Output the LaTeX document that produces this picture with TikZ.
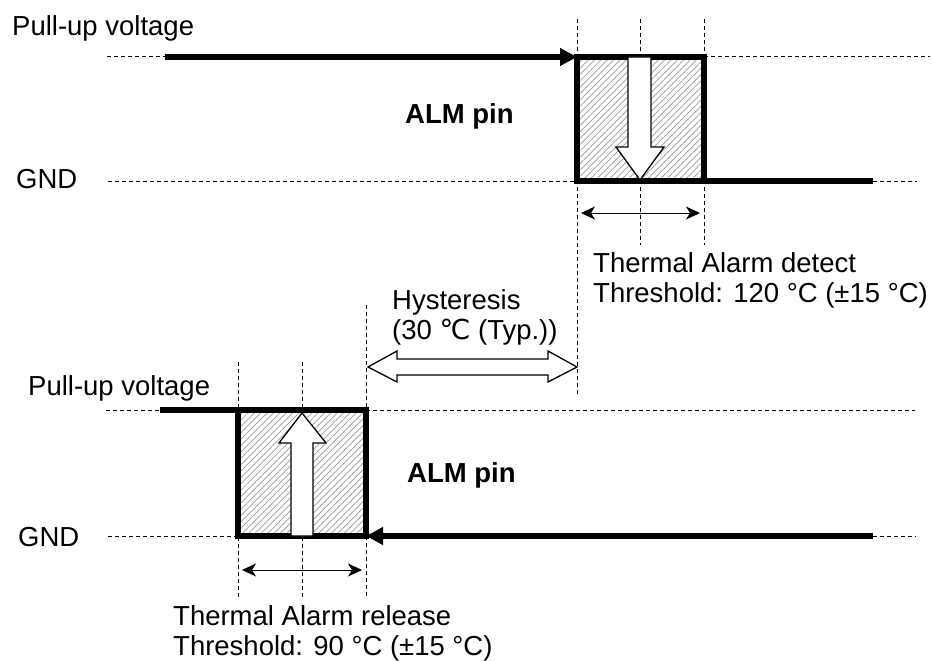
\documentclass[tikz,border=0pt]{standalone}
\usepackage{fontspec}
\setmainfont{Liberation Sans}
\newfontfamily\degfont{DejaVu Sans}
\usetikzlibrary{arrows.meta, patterns.meta}

\tikzset{
  guide/.style={line width=1pt, dash pattern=on 4pt off 3pt},
  level/.style={line width=5.5pt},
  pulse/.style={line width=5.5pt, pattern={Lines[angle=45,distance=4.5pt,line width=0.7pt]}, pattern color=gray!80},
  hollow/.style={line width=1.3pt, fill=white, line join=miter},
  span/.style={line width=1pt, {Stealth[length=14pt,width=13pt,inset=4pt]}-{Stealth[length=14pt,width=13pt,inset=4pt]}},
  lbl/.style={inner sep=0pt, anchor=base west, align=left},
}

\begin{document}
\begin{tikzpicture}[x=1pt, y=-1pt, font=\fontsize{27.5}{30}\selectfont]
\useasboundingbox (0,0) rectangle (932,661);

% detect (upper) waveform
\coordinate (upA) at (107,57);
\coordinate (upB) at (165,57);
\coordinate (upC) at (577,57);
\coordinate (upD) at (704,57);
\coordinate (upE) at (930,57);
\coordinate (ugA) at (108,181);
\coordinate (ugC) at (577,181);
\coordinate (ugD) at (704,181);
\coordinate (ugE) at (873,181);
\coordinate (ugF) at (917,181);

\draw[guide] (upA) -- (upB);
\draw[guide] (upD) -- (upE);
\draw[guide] (ugA) -- (ugC);
\draw[guide] (ugE) -- (ugF);

\draw[guide] (577,19) coordinate (uvA) -- (577,395) coordinate (uvA');
\draw[guide] (640,19) coordinate (uvB) -- (640,245) coordinate (uvB');
\draw[guide] (704,19) coordinate (uvC) -- (704,245) coordinate (uvC');

\draw[pulse] (upC) rectangle (ugD);
\draw[level, -{Triangle[length=17pt,width=17pt]}] (upB) -- (upC);
\draw[level] (ugD) -- (ugE);

\draw[hollow] (628,57) -- (651,57) -- (651,147) -- (664,147) -- (640,180)
  -- (616,147) -- (628,147) -- cycle;

\draw[span] (581,213) coordinate (dspL) -- (700,213) coordinate (dspR);

\node[lbl] (pu1) at (12,36) {Pull-up voltage};
\node[lbl] (gnd1) at (16,188) {GND};
\node[lbl] (alm1) at (405,123) {\bfseries ALM pin};
\node[lbl] (det) at (593,302) {Thermal Alarm detect\\Threshold: 120 °C (±15 °C)};

% hysteresis
\draw[hollow] (368,367) -- (397,351) -- (397,359) -- (548,359) -- (548,351)
  -- (577,367) -- (548,382) -- (548,375) -- (397,375) -- (397,382) -- cycle;
\node[lbl] (hys) at (392,339) {Hysteresis\\(30 {\degfont ℃} (Typ.))};

% release (lower) waveform
\coordinate (lpA) at (106,410);
\coordinate (lpB) at (160,410);
\coordinate (lpC) at (238,410);
\coordinate (lpD) at (366,410);
\coordinate (lpE) at (915,410);
\coordinate (lgA) at (108,536);
\coordinate (lgC) at (238,536);
\coordinate (lgD) at (366,536);
\coordinate (lgE) at (873,536);
\coordinate (lgF) at (916,536);

\draw[guide] (lpA) -- (lpB);
\draw[guide] (lpD) -- (lpE);
\draw[guide] (lgA) -- (lgC);
\draw[guide] (lgE) -- (lgF);

\draw[guide] (238,362) coordinate (lvA) -- (238,598) coordinate (lvA');
\draw[guide] (302,362) coordinate (lvB) -- (302,598) coordinate (lvB');
\draw[guide] (366,305) coordinate (lvC) -- (366,598) coordinate (lvC');

\draw[pulse] (lpC) rectangle (lgD);
\draw[level] (lpB) -- (lpC);
\draw[level, -{Triangle[length=17pt,width=17pt]}] (lgE) -- (lgD);

\draw[hollow] (291,536) -- (313,536) -- (313,443) -- (326,443) -- (302,413)
  -- (279,443) -- (291,443) -- cycle;

\draw[span] (242,570) coordinate (rspL) -- (362,570) coordinate (rspR);

\node[lbl] (pu2) at (28,395) {Pull-up voltage};
\node[lbl] (gnd2) at (18,546) {GND};
\node[lbl] (alm2) at (407,482) {\bfseries ALM pin};
\node[lbl] (rel) at (173,655) {Thermal Alarm release\\Threshold: 90 °C (±15 °C)};

\end{tikzpicture}
\end{document}
